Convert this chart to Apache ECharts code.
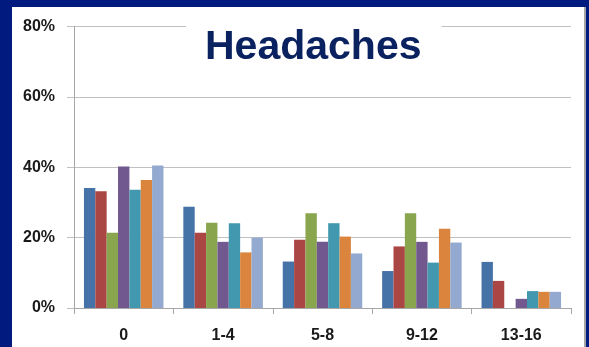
<!DOCTYPE html>
<html>
<head>
<meta charset="utf-8">
<script src="https://cdn.jsdelivr.net/npm/echarts@6/dist/echarts.min.js"></script>
<style>
  body { margin: 0; background: #001a7f; }
  #frame { position: absolute; left: 12px; top: 7px; width: 572px; height: 340px; background: #fff; border-right: 2px solid #a6a6a6; }
  #chart { position: absolute; left: 0; top: 0; width: 589px; height: 347px; }
</style>
</head>
<body>
<div id="frame"></div>
<div id="chart"></div>
<script>
var categories = ['0', '1-4', '5-8', '9-12', '13-16'];
var yTicks = [0, 20, 40, 60, 80];

// one array per group, values in percent
var series1 = [34.1, 28.8, 13.2, 10.5, 13.1];
var series2 = [33.2, 21.4, 19.4, 17.5, 7.7];
var series3 = [21.4, 24.2, 26.9, 26.9, 0];
var series4 = [40.2, 18.8, 18.8, 18.8, 2.6];
var series5 = [33.6, 24.1, 24.1, 12.9, 4.8];
var series6 = [36.4, 15.8, 20.3, 22.5, 4.6];
var series7 = [40.5, 20.0, 15.5, 18.6, 4.6];

var allSeries = [series1, series2, series3, series4, series5, series6, series7];
var colors = ['#4572a7', '#aa4643', '#89a54e', '#71588f', '#4198af', '#db843d', '#93a9cf'];

var chart = echarts.init(document.getElementById('chart'));

var option = {
  animation: false,
  color: colors,
  title: {
    text: 'Headaches',
    left: 186,
    top: 23,
    padding: [4, 20, 4, 19],
    backgroundColor: '#fff',
    textStyle: {
      fontFamily: 'Liberation Sans',
      fontWeight: 'bold',
      fontSize: 41,
      color: '#0b2260'
    }
  },
  grid: {
    left: 74,
    right: 18,
    top: 26.5,
    bottom: 39
  },
  xAxis: {
    type: 'category',
    data: categories,
    axisLine: { lineStyle: { color: '#a6a6a6', width: 1 } },
    axisTick: { show: true, length: 6, lineStyle: { color: '#a6a6a6' } },
    axisLabel: {
      margin: 20,
      fontFamily: 'Liberation Sans',
      fontWeight: 'bold',
      fontSize: 16,
      color: '#1a1a1a'
    }
  },
  yAxis: {
    type: 'value',
    min: yTicks[0],
    max: yTicks[yTicks.length - 1],
    interval: 20,
    axisLine: { show: true, lineStyle: { color: '#a6a6a6', width: 1 } },
    axisTick: { show: true, length: 7, lineStyle: { color: '#c0c0c0' } },
    splitLine: { lineStyle: { color: '#c0c0c0', width: 1 } },
    axisLabel: {
      margin: 19,
      formatter: '{value}%',
      fontFamily: 'Liberation Sans',
      fontWeight: 'bold',
      fontSize: 16,
      color: '#1a1a1a'
    }
  },
  series: allSeries.map(function(values, i) {
    return {
      name: 'Series ' + (i + 1),
      type: 'bar',
      data: values,
      barGap: '0%',
      barCategoryGap: '20%'
    };
  })
};

chart.setOption(option);
</script>
</body>
</html>
